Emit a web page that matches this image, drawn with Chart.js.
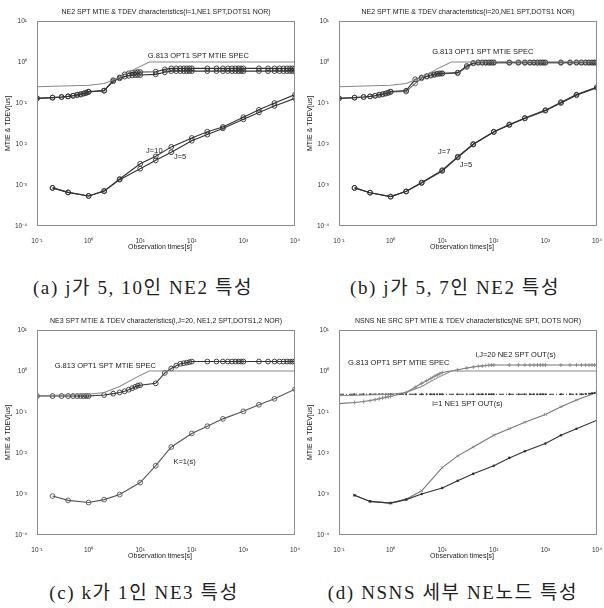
<!DOCTYPE html>
<html>
<head>
<meta charset="utf-8">
<script src="https://cdn.jsdelivr.net/npm/chart.js@4.4.0/dist/chart.umd.min.js"></script>
<style>
    body { margin: 0; background: #fff; width: 604px; height: 608px; position: relative; overflow: hidden; }
    .panel { position: absolute; width: 302px; height: 260px; }
    .cap { position: absolute; width: 302px; text-align: center; white-space: nowrap;
           font-family: "Liberation Serif", "Noto Sans CJK KR", serif; font-size: 19px; color: #222; letter-spacing: 1.6px; }
</style>
</head>
<body>
<div class="panel" style="left:0;top:0"><canvas id="grafA"></canvas></div>
<div class="panel" style="left:302px;top:0"><canvas id="grafB"></canvas></div>
<div class="panel" style="left:0;top:309px"><canvas id="grafC"></canvas></div>
<div class="panel" style="left:302px;top:309px"><canvas id="grafD"></canvas></div>
<div class="cap" style="left:-8px;top:272px">(a) j가 5, 10인 NE2 특성</div>
<div class="cap" style="left:304px;top:272px">(b) j가 5, 7인 NE2 특성</div>
<div class="cap" style="left:-7px;top:577px">(c) k가 1인 NE3 특성</div>
<div class="cap" style="left:302px;top:577px">(d) NSNS 세부 NE노드 특성</div>
<script>
// =========================
// Datos
// =========================
const tauM = [0.1, 0.2, 0.3, 0.4, 0.5, 0.6, 0.7, 0.8, 0.9,
              1, 2, 3, 4, 5, 6, 7, 8, 9,
              10, 20, 30, 40, 50, 60, 70, 80, 90,
              100, 200, 300, 400, 500, 600, 700, 800, 900,
              1000, 2000, 3000, 4000, 5000, 6000, 7000, 8000, 9000,
              10000];
const tauT = [0.2, 0.4, 1, 2, 4, 10, 20, 40, 100, 200, 400, 1000, 2000, 4000, 10000];

const specTau = [0.1, 1, 2, 4, 8, 15, 10000];
const specVal = [0.25, 0.27, 0.3, 0.42, 0.68, 1.0, 1.0];

const xTicks = [0.1, 1, 10, 100, 1000, 10000];
const yTicks = [1e-4, 1e-3, 1e-2, 1e-1, 1, 10];

// (a)
const mtieA10 = [0.13, 0.135, 0.14, 0.145, 0.15, 0.16, 0.165, 0.17, 0.18,
                 0.19, 0.2, 0.36, 0.42, 0.5, 0.53, 0.55, 0.56, 0.57,
                 0.57, 0.58, 0.66, 0.7, 0.7, 0.7, 0.7, 0.7, 0.7,
                 0.7, 0.7, 0.7, 0.7, 0.7, 0.7, 0.7, 0.7, 0.7,
                 0.7, 0.7, 0.7, 0.7, 0.7, 0.7, 0.7, 0.7, 0.7,
                 0.7];
const mtieA5 = [0.13, 0.135, 0.14, 0.145, 0.15, 0.155, 0.16, 0.17, 0.175,
                0.185, 0.2, 0.34, 0.4, 0.44, 0.46, 0.47, 0.48, 0.48,
                0.48, 0.5, 0.56, 0.6, 0.6, 0.6, 0.6, 0.6, 0.6,
                0.6, 0.6, 0.6, 0.6, 0.6, 0.6, 0.6, 0.6, 0.6,
                0.6, 0.6, 0.6, 0.6, 0.6, 0.6, 0.6, 0.6, 0.6,
                0.6];
const tdevA10 = [8.5e-4, 6.6e-4, 5.4e-4, 7.2e-4, 1.4e-3, 3.3e-3, 5.0e-3, 8.5e-3, 0.014, 0.020, 0.026, 0.045, 0.068, 0.10, 0.16];
const tdevA5 = [8.5e-4, 6.6e-4, 5.4e-4, 7.0e-4, 1.35e-3, 2.5e-3, 4.0e-3, 6.3e-3, 0.012, 0.017, 0.024, 0.040, 0.059, 0.085, 0.13];

// (b)
const mtieB7 = [0.13, 0.135, 0.14, 0.145, 0.15, 0.16, 0.165, 0.17, 0.18,
                0.19, 0.2, 0.38, 0.42, 0.45, 0.48, 0.5, 0.52, 0.53,
                0.53, 0.55, 0.8, 0.95, 0.98, 0.98, 0.98, 0.98, 0.98,
                0.98, 0.98, 0.98, 0.98, 0.98, 0.98, 0.98, 0.98, 0.98,
                0.98, 0.98, 0.98, 0.98, 0.98, 0.98, 0.98, 0.98, 0.98,
                0.98];
const mtieB5 = [0.13, 0.135, 0.14, 0.145, 0.15, 0.155, 0.16, 0.17, 0.175,
                0.185, 0.19, 0.3, 0.4, 0.44, 0.46, 0.48, 0.5, 0.51,
                0.52, 0.53, 0.75, 0.92, 0.95, 0.95, 0.95, 0.95, 0.95,
                0.95, 0.95, 0.95, 0.95, 0.95, 0.95, 0.95, 0.95, 0.95,
                0.95, 0.95, 0.95, 0.95, 0.95, 0.95, 0.95, 0.95, 0.95,
                0.95];
const tdevB7 = [8.5e-4, 6.5e-4, 5.2e-4, 7.0e-4, 1.15e-3, 2.3e-3, 4.9e-3, 0.010, 0.020, 0.030, 0.043, 0.067, 0.105, 0.16, 0.245];
const tdevB5 = [8.5e-4, 6.5e-4, 5.2e-4, 6.9e-4, 1.12e-3, 2.2e-3, 4.7e-3, 0.0097, 0.0195, 0.029, 0.042, 0.065, 0.10, 0.155, 0.235];

// (c)
const mtieC = [0.245, 0.245, 0.245, 0.245, 0.245, 0.245, 0.245, 0.245, 0.245,
               0.245, 0.26, 0.28, 0.3, 0.32, 0.35, 0.38, 0.41, 0.44,
               0.45, 0.5, 0.9, 1.15, 1.35, 1.5, 1.55, 1.6, 1.65,
               1.7, 1.7, 1.7, 1.7, 1.7, 1.7, 1.7, 1.7, 1.7,
               1.7, 1.7, 1.7, 1.7, 1.7, 1.7, 1.7, 1.7, 1.7,
               1.7];
const tdevC = [8.9e-4, 7.0e-4, 6.2e-4, 7.3e-4, 9.7e-4, 1.9e-3, 4.9e-3, 0.014, 0.030, 0.045, 0.068, 0.104, 0.15, 0.21, 0.36];

// (d)
const mtieD1 = [0.27, 0.27, 0.27, 0.27, 0.27, 0.27, 0.27, 0.27, 0.27,
                0.27, 0.27, 0.27, 0.27, 0.27, 0.27, 0.27, 0.27, 0.27,
                0.27, 0.27, 0.27, 0.27, 0.27, 0.27, 0.27, 0.27, 0.27,
                0.27, 0.27, 0.27, 0.27, 0.27, 0.27, 0.27, 0.27, 0.27,
                0.27, 0.27, 0.27, 0.27, 0.27, 0.275, 0.28, 0.285, 0.29,
                0.3];
const mtieD20 = [0.16, 0.17, 0.18, 0.19, 0.2, 0.21, 0.22, 0.23, 0.235,
                 0.24, 0.3, 0.4, 0.5, 0.58, 0.66, 0.74, 0.8, 0.86,
                 0.92, 1.07, 1.18, 1.25, 1.3, 1.33, 1.36, 1.38, 1.4,
                 1.4, 1.4, 1.4, 1.4, 1.4, 1.4, 1.4, 1.4, 1.4,
                 1.4, 1.4, 1.4, 1.4, 1.4, 1.4, 1.4, 1.4, 1.4,
                 1.4];
const tdevD1 = [9.3e-4, 6.6e-4, 6.0e-4, 7.3e-4, 1.0e-3, 1.4e-3, 2.1e-3, 3.1e-3, 4.9e-3, 7.6e-3, 0.011, 0.017, 0.027, 0.039, 0.063];
const tdevD20 = [9.3e-4, 6.6e-4, 6.0e-4, 7.5e-4, 1.2e-3, 4.4e-3, 8.5e-3, 0.014, 0.027, 0.039, 0.056, 0.087, 0.135, 0.195, 0.30];

// =========================
// Utilidades
// =========================
const SUP = { "-4": "⁻⁴", "-3": "⁻³", "-2": "⁻²", "-1": "⁻¹", "0": "⁰", "1": "¹", "2": "²", "3": "³", "4": "⁴" };
function potencia(v) {
    return "10" + SUP[String(Math.round(Math.log10(v)))];
}

function puntos(xs, ys) {
    return xs.map((x, i) => ({ x: x, y: ys[i] }));
}

function linea(xs, ys, extra) {
    return Object.assign({
        data: puntos(xs, ys),
        borderColor: "#333",
        borderWidth: 1.1,
        pointStyle: "circle",
        pointRadius: 2.4,
        pointBorderWidth: 0.9,
        pointBorderColor: "#333",
        pointBackgroundColor: "rgba(255,255,255,0)",
        tension: 0
    }, extra || {});
}

function spec() {
    return linea(specTau, specVal, { borderColor: "#888", pointRadius: 0 });
}

// plugin: marco, título, títulos de ejes y etiquetas
const decor = {
    id: "decor",
    afterDraw(chart, args, opts) {
        const ctx = chart.ctx;
        const a = chart.chartArea;
        const sx = chart.scales.x, sy = chart.scales.y;
        ctx.save();
        ctx.strokeStyle = "#8c8c8c";
        ctx.lineWidth = 1;
        ctx.strokeRect(a.left + 0.5, a.top + 0.5, a.width - 1, a.height - 1);

        ctx.fillStyle = "#222";
        ctx.textBaseline = "middle";
        ctx.font = "7px Arial, 'Liberation Sans'";
        ctx.textAlign = "center";
        ctx.fillText(opts.titulo, (a.left + a.right) / 2, a.top - 9);
        ctx.fillText("Observation times[s]", (a.left + a.right) / 2 - 6, a.bottom + 21);

        ctx.save();
        ctx.translate(8, (a.top + a.bottom) / 2);
        ctx.rotate(-Math.PI / 2);
        ctx.fillText("MTIE & TDEV[us]", 0, 0);
        ctx.restore();

        ctx.textAlign = "left";
        ctx.font = "7.5px Arial, 'Liberation Sans'";
        (opts.etiquetas || []).forEach(e => {
            ctx.fillText(e.texto, sx.getPixelForValue(e.x), sy.getPixelForValue(e.y));
        });
        ctx.restore();
    }
};

function crearPanel(id, titulo, datasets, etiquetas) {
    const ctx = document.getElementById(id).getContext("2d");
    return new Chart(ctx, {
        type: "line",
        data: { datasets: datasets },
        plugins: [decor],
        options: {
            responsive: true,
            maintainAspectRatio: false,
            animation: false,
            layout: { padding: { top: 21, right: 7, left: 0, bottom: 0 } },
            plugins: {
                legend: { display: false },
                tooltip: { enabled: false },
                decor: { titulo: titulo, etiquetas: etiquetas }
            },
            scales: {
                x: {
                    type: "logarithmic",
                    min: 0.1, max: 10000,
                    grid: { display: false },
                    border: { display: false },
                    afterBuildTicks(s) { s.ticks = xTicks.map(v => ({ value: v })); },
                    afterFit(s) { s.height = 34; s.paddingLeft = 0; s.paddingRight = 0; },
                    ticks: {
                        color: "#333", padding: 3, maxRotation: 0, autoSkip: false,
                        font: { size: 6.5, family: "Arial" },
                        callback: v => potencia(v)
                    }
                },
                y: {
                    type: "logarithmic",
                    min: 1e-4, max: 10,
                    grid: { display: false },
                    border: { display: false },
                    afterBuildTicks(s) { s.ticks = yTicks.map(v => ({ value: v })); },
                    afterFit(s) { s.width = 37; s.paddingTop = 0; s.paddingBottom = 0; },
                    ticks: {
                        color: "#333", padding: 2, autoSkip: false,
                        font: { size: 6.5, family: "Arial" },
                        callback: v => potencia(v)
                    }
                }
            }
        }
    });
}

// =========================
// Paneles
// =========================
crearPanel("grafA", "NE2 SPT MTIE & TDEV characteristics(i=1,NE1 SPT,DOTS1 NOR)", [
    spec(),
    linea(tauM, mtieA10),
    linea(tauM, mtieA5),
    linea(tauT, tdevA10),
    linea(tauT, tdevA5)
], [
    { texto: "G.813 OPT1 SPT MTIE SPEC", x: 14, y: 1.4 },
    { texto: "J=10", x: 13, y: 0.0069 },
    { texto: "J=5", x: 45, y: 0.0048 }
]);

crearPanel("grafB", "NE2 SPT MTIE & TDEV characteristics(i=20,NE1 SPT,DOTS1 NOR)", [
    spec(),
    linea(tauM, mtieB7),
    linea(tauM, mtieB5, { borderColor: "#6a6a6a", pointBorderColor: "#6a6a6a" }),
    linea(tauT, tdevB7),
    linea(tauT, tdevB5)
], [
    { texto: "G.813 OPT1 SPT MTIE SPEC", x: 6.4, y: 1.8 },
    { texto: "J=7", x: 8.3, y: 0.0063 },
    { texto: "J=5", x: 22, y: 0.0031 }
]);

crearPanel("grafC", "NE3 SPT MTIE & TDEV characteristics(i,J=20, NE1,2 SPT,DOTS1,2 NOR)", [
    spec(),
    linea(tauM, mtieC),
    linea(tauT, tdevC, { borderColor: "#555", pointBorderColor: "#555" })
], [
    { texto: "G.813 OPT1 SPT MTIE SPEC", x: 0.22, y: 1.35 },
    { texto: "K=1(s)", x: 44, y: 0.006 }
]);

crearPanel("grafD", "NSNS NE SRC SPT MTIE & TDEV characteristics(NE SPT, DOTS NOR)", [
    spec(),
    linea(tauM, mtieD1, { borderDash: [5, 2, 1, 2], pointRadius: 1, pointBackgroundColor: "#333", pointBorderWidth: 0 }),
    linea(tauM, mtieD20, { borderColor: "#777", pointStyle: "cross", pointRadius: 2, pointBorderColor: "#888" }),
    linea(tauT, tdevD1, { pointRadius: 1.3, pointBackgroundColor: "#333", pointBorderWidth: 0 }),
    linea(tauT, tdevD20, { borderColor: "#777", pointStyle: "crossRot", pointRadius: 2, pointBorderColor: "#888" })
], [
    { texto: "G.813 OPT1 SPT MTIE SPEC", x: 0.15, y: 1.55 },
    { texto: "i,J=20 NE2 SPT OUT(s)", x: 44, y: 2.5 },
    { texto: "i=1 NE1 SPT OUT(s)", x: 6.4, y: 0.16 }
]);
</script>
</body>
</html>
